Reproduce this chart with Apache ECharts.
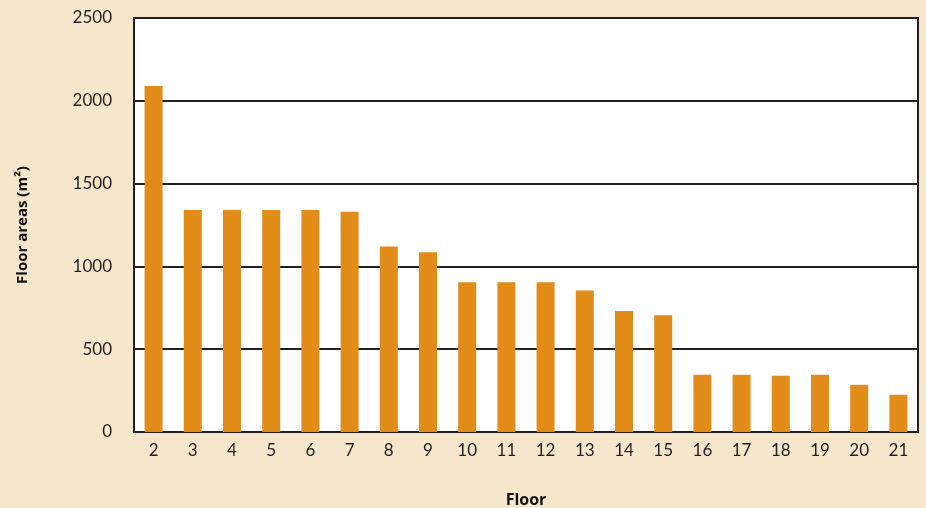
<!DOCTYPE html>
<html>
<head>
<meta charset="utf-8">
<script src="https://cdn.jsdelivr.net/npm/echarts@6/dist/echarts.min.js"></script>
<style>
  html, body { margin: 0; padding: 0; background: #f5e6cc; }
  #chart { width: 926px; height: 508px; }
</style>
</head>
<body>
<div id="chart"></div>
<script>
// Floor numbers and the floor area of each (m²)
const floors = ['2', '3', '4', '5', '6', '7', '8', '9', '10', '11', '12', '13', '14', '15', '16', '17', '18', '19', '20', '21'];
const floorAreas = [2090, 1340, 1340, 1340, 1340, 1330, 1120, 1085, 905, 905, 905, 855, 730, 705, 345, 345, 340, 345, 285, 225];
const yTicks = [0, 500, 1000, 1500, 2000, 2500];

const chart = echarts.init(document.getElementById('chart'));
chart.setOption({
  backgroundColor: '#f5e6cc',
  animation: false,
  grid: {
    left: 134, right: 8, top: 18, bottom: 76,
    outerBoundsMode: 'none',
    containLabel: false,
    show: true, backgroundColor: '#ffffff',
    borderColor: '#231f20', borderWidth: 2
  },
  xAxis: {
    type: 'category',
    data: floors,
    name: 'Floor',
    nameLocation: 'middle',
    nameGap: 60,
    nameTextStyle: { fontFamily: 'Open Sans', fontWeight: 'bold', fontSize: 16, color: '#111' },
    axisLine: { show: true, lineStyle: { color: '#231f20', width: 2 } },
    axisTick: { show: false },
    axisLabel: { fontFamily: 'Lato', fontSize: 17, color: '#231f20', margin: 10 }
  },
  yAxis: {
    type: 'value',
    min: yTicks[0],
    max: yTicks[yTicks.length - 1],
    interval: 500,
    name: 'Floor areas (m²)',
    nameLocation: 'middle',
    nameGap: 104,
    nameRotate: 90,
    nameTextStyle: { fontFamily: 'Open Sans', fontWeight: 'bold', fontSize: 15, color: '#111' },
    axisLine: { show: true, lineStyle: { color: '#231f20', width: 2 } },
    axisTick: { show: false },
    axisLabel: {
      fontFamily: 'Lato', fontSize: 17, color: '#231f20', margin: 22,
      formatter: v => String(v)
    },
    splitLine: { show: true, lineStyle: { color: '#231f20', width: 2 } }
  },
  series: [{
    type: 'bar',
    data: floorAreas,
    barWidth: 18,
    itemStyle: { color: '#e28c1a' }
  }]
});
</script>
</body>
</html>
